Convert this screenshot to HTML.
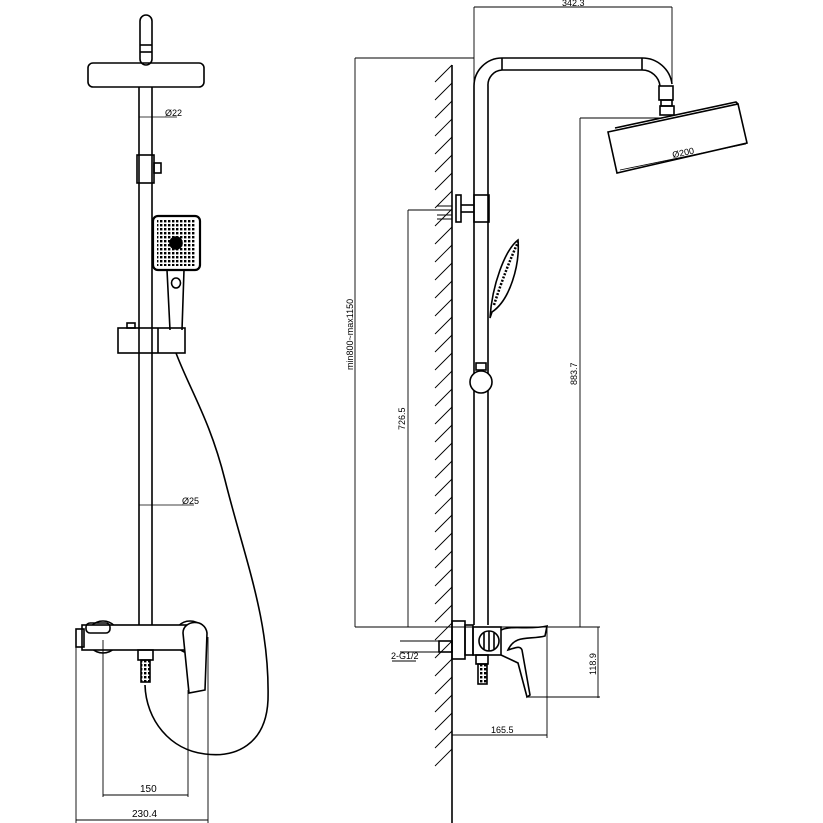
<!DOCTYPE html>
<html><head><meta charset="utf-8"><style>html,body{margin:0;padding:0;background:#fff}svg{display:block}</style></head>
<body>
<svg width="823" height="823" viewBox="0 0 823 823" xmlns="http://www.w3.org/2000/svg" fill="none" stroke="#000" stroke-width="1.6" font-family="Liberation Sans Narrow, Liberation Sans, sans-serif">
<defs>
<pattern id="dots" width="4" height="4" patternUnits="userSpaceOnUse"><rect x="0" y="0" width="2.4" height="2.4" fill="#000" stroke="none"/></pattern>
</defs>
<!-- LEFT VIEW -->
<rect x="140" y="15" width="12" height="50" rx="6"/>
<line x1="140" y1="45" x2="152" y2="45"/><line x1="140" y1="52" x2="152" y2="52"/>
<rect x="88" y="63" width="116" height="24" rx="5"/>
<line x1="139" y1="87" x2="139" y2="625"/><line x1="152" y1="87" x2="152" y2="625"/>
<line x1="139" y1="117" x2="177" y2="117" stroke-width="0.8"/>
<text x="165" y="116" font-size="9" fill="#000" stroke="none">Ø22</text>
<rect x="137" y="155" width="17" height="28"/>
<rect x="154" y="163" width="7" height="10"/>
<rect x="153" y="216" width="47" height="54" rx="5" stroke-width="2.2"/>
<rect x="157" y="220" width="39" height="46" fill="url(#dots)" stroke="none"/>
<circle cx="176" cy="243" r="6" fill="#000"/>
<path d="M167 270 L170 330 M184 270 L182 330"/>
<ellipse cx="176" cy="283" rx="4.5" ry="5"/>
<rect x="118" y="328" width="67" height="25"/>
<line x1="158" y1="328" x2="158" y2="353"/>
<rect x="127" y="323" width="8" height="5"/>
<path d="M176 353 C190 390,210 420,225 480 C245 560,270 620,268 700 C266 745,235 758,205 754 C170 750,146 720,145 685"/>
<line x1="139" y1="505" x2="194" y2="505" stroke-width="0.8"/>
<text x="182" y="504" font-size="9" fill="#000" stroke="none">Ø25</text>
<circle cx="103" cy="637" r="16" fill="#fff"/>
<circle cx="190" cy="637" r="16" fill="#fff"/>
<rect x="82" y="625" width="120" height="25" fill="#fff"/>
<rect x="76" y="629" width="8" height="18"/>
<rect x="86" y="623" width="24" height="10" rx="4"/>
<path d="M183 633 C183 620,205 618,207 633 L205 690 L189 693 Z" fill="#fff"/>
<rect x="138" y="650" width="15" height="10"/>
<rect x="141" y="660" width="9" height="22" fill="url(#dots)"/>
<g stroke-width="0.9">
<line x1="76" y1="647" x2="76" y2="823"/><line x1="208" y1="637" x2="208" y2="823"/>
<line x1="103" y1="640" x2="103" y2="797"/><line x1="188" y1="690" x2="188" y2="797"/>
<line x1="103" y1="795" x2="188" y2="795"/><line x1="76" y1="820" x2="208" y2="820"/>
</g>
<text x="140" y="792" font-size="10" fill="#000" stroke="none">150</text>
<text x="132" y="817" font-size="10" fill="#000" stroke="none">230.4</text>

<!-- RIGHT VIEW -->
<line x1="452" y1="65" x2="452" y2="823"/>
<g stroke-width="0.9">
<path d="M435 82 L452 65 M435 100 L452 83 M435 118 L452 101 M435 136 L452 119 M435 154 L452 137 M435 172 L452 155 M435 190 L452 173 M435 208 L452 191 M435 226 L452 209 M435 244 L452 227 M435 262 L452 245 M435 280 L452 263 M435 298 L452 281 M435 316 L452 299 M435 334 L452 317 M435 352 L452 335 M435 370 L452 353 M435 388 L452 371 M435 406 L452 389 M435 424 L452 407 M435 442 L452 425 M435 460 L452 443 M435 478 L452 461 M435 496 L452 479 M435 514 L452 497 M435 532 L452 515 M435 550 L452 533 M435 568 L452 551 M435 586 L452 569 M435 604 L452 587 M435 622 L452 605 M435 640 L452 623 M435 658 L452 641 M435 676 L452 659 M435 694 L452 677 M435 712 L452 695 M435 730 L452 713 M435 748 L452 731 M435 766 L452 749"/>
</g>
<path d="M474 625 L474 86 A28 28 0 0 1 502 58 L642 58 A30 30 0 0 1 672 84"/>
<path d="M488 625 L488 86 A15 15 0 0 1 502 70 L642 70 A18 18 0 0 1 660 86"/>
<line x1="502" y1="58" x2="502" y2="70"/><line x1="642" y1="58" x2="642" y2="70"/>
<rect x="659" y="86" width="14" height="14"/>
<rect x="661" y="100" width="11" height="6"/>
<rect x="660" y="106" width="14" height="9"/>
<path d="M608 132 L738 104 L747 143 L617 173 Z"/>
<path d="M615 128 L736 102 L738 104"/>
<text x="0" y="0" font-size="9" fill="#000" stroke="none" transform="translate(673,158) rotate(-12)">Ø200</text>
<line x1="620" y1="170" x2="746" y2="144" stroke-width="0.8"/>
<rect x="474" y="195" width="15" height="27"/>
<rect x="456" y="195" width="5" height="27"/>
<line x1="461" y1="205" x2="474" y2="205"/><line x1="461" y1="212" x2="474" y2="212"/>
<path d="M437 206 L452 206 M437 210 L452 210 M437 215 L452 215 M437 219 L452 219" stroke-width="1.1"/>
<path d="M490 318 C492 285,505 250,518 240 C520 265,510 300,492 312 Z"/>
<path d="M494 305 C502 280,510 260,518 242" stroke-width="2.5" stroke-dasharray="2 1.5"/>
<rect x="476" y="363" width="10" height="7"/>
<circle cx="481" cy="382" r="11" fill="#fff"/>
<rect x="452" y="621" width="13" height="38"/>
<rect x="465" y="625" width="8" height="30"/>
<rect x="473" y="627" width="28" height="28"/>
<circle cx="489" cy="641" r="10"/>
<path d="M484 633 L484 649 M489 631 L489 651 M494 633 L494 649"/>
<path d="M501 630 C510 625,530 630,547 626 L545 636 C530 640,515 634,508 650 C515 648,520 645,522 650 L530 695 L527 697 L518 663 L501 655"/>
<rect x="476" y="655" width="12" height="9"/>
<rect x="478" y="664" width="9" height="20" fill="url(#dots)"/>
<rect x="439" y="641" width="13" height="11"/>
<g stroke-width="0.9">
<line x1="474" y1="7" x2="474" y2="90"/><line x1="672" y1="7" x2="672" y2="84"/>
<line x1="474" y1="7" x2="672" y2="7"/>
<line x1="355" y1="58" x2="474" y2="58"/><line x1="355" y1="58" x2="355" y2="627"/>
<line x1="408" y1="210" x2="440" y2="210"/><line x1="408" y1="210" x2="408" y2="627"/>
<line x1="580" y1="118" x2="660" y2="118"/><line x1="580" y1="118" x2="580" y2="627"/>
<line x1="355" y1="627" x2="600" y2="627"/>
<line x1="598" y1="627" x2="598" y2="698"/><line x1="528" y1="697" x2="600" y2="697"/>
<line x1="452" y1="735" x2="547" y2="735"/><line x1="547" y1="628" x2="547" y2="738"/>
<line x1="400" y1="641" x2="440" y2="641"/><line x1="400" y1="652" x2="440" y2="652"/>
<line x1="392" y1="661" x2="416" y2="661"/>
</g>
<text x="562" y="6" font-size="9" fill="#000" stroke="none">342.3</text>
<text font-size="9" fill="#000" stroke="none" transform="translate(353,370) rotate(-90)">min800~max1150</text>
<text font-size="9" fill="#000" stroke="none" transform="translate(405,430) rotate(-90)">726.5</text>
<text font-size="9" fill="#000" stroke="none" transform="translate(577,385) rotate(-90)">883.7</text>
<text font-size="9" fill="#000" stroke="none" transform="translate(596,675) rotate(-90)">118.9</text>
<text x="491" y="733" font-size="9" fill="#000" stroke="none">165.5</text>
<text x="391" y="659" font-size="9" fill="#000" stroke="none">2-G1/2</text>
</svg>
</body></html>
